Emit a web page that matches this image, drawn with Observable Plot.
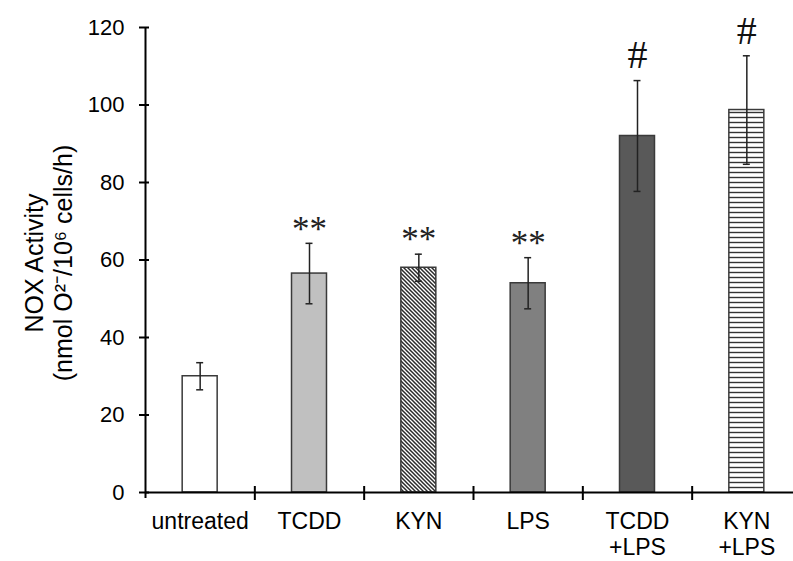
<!DOCTYPE html>
<html>
<head>
<meta charset="utf-8">
<script src="https://cdn.jsdelivr.net/npm/d3@7"></script>
<script src="https://cdn.jsdelivr.net/npm/@observablehq/plot@0.6"></script>
<style>
  html, body { margin: 0; padding: 0; background: #fff; }
  #chart { width: 793px; height: 561px; }
</style>
</head>
<body>
<div id="chart"></div>
<script>
// ---- data ----
const categories = ["untreated", "TCDD", "KYN", "LPS", "TCDD\n+LPS", "KYN\n+LPS"];
const means = [30, 56.5, 58, 54, 92, 98.7];
const errors = [3.5, 7.8, 3.5, 6.6, 14.3, 14];
const significance = ["", "**", "**", "**", "#", "#"];
const yTicks = [0, 20, 40, 60, 80, 100, 120];
const yLabel = "NOX Activity\n(nmol O\u00B2\u207B/10\u2076 cells/h)";

// ---- styling (not data) ----
const fills = ["#ffffff", "#c0c0c0", "url(#hatchDiag)", "#808080", "#595959", "url(#hatchHoriz)"];
const W = 793, H = 561;
const left = 145, rightEnd = 801;
const step = (rightEnd - left) / categories.length;
const font = "Arial, 'Liberation Sans', sans-serif";
const serif = "'Liberation Serif', 'Times New Roman', serif";

const rows = categories.map((c, i) => ({
  cat: c, mean: means[i], err: errors[i], sig: significance[i], fill: fills[i]
}));

const chart = Plot.plot({
  width: W,
  height: H,
  marginLeft: left,
  marginRight: 0,
  marginTop: 27,
  marginBottom: 69,
  style: {fontFamily: font, color: "#000", background: "#fff"},
  x: {domain: categories, range: [left, rightEnd], paddingInner: 0.68, paddingOuter: 0.34, round: false},
  y: {domain: [0, 120]},
  color: {type: "identity"},
  marks: [
    Plot.barY(rows, {x: "cat", y: "mean", fill: "fill", stroke: "#3a3a3a", strokeWidth: 1.5}),
    // error bars
    Plot.ruleX(rows, {x: "cat", y1: d => d.mean - d.err, y2: d => d.mean + d.err, stroke: "#222", strokeWidth: 1.5}),
    Plot.tickY(rows, {x: "cat", y: d => d.mean + d.err, insetLeft: 14, insetRight: 14, stroke: "#222", strokeWidth: 1.5}),
    Plot.tickY(rows, {x: "cat", y: d => d.mean - d.err, insetLeft: 14, insetRight: 14, stroke: "#222", strokeWidth: 1.5}),
    // significance marks
    Plot.text(rows.filter(d => d.sig === "**"), {x: "cat", y: d => d.mean + d.err, text: "sig", dy: -14, fontSize: 35, fontFamily: serif, fill: "#222"}),
    Plot.text(rows.filter(d => d.sig === "#"), {x: "cat", y: d => d.mean + d.err, text: "sig", dy: -25, fontSize: 40, fontFamily: serif, fill: "#111"}),
    // axes
    Plot.ruleY([0], {stroke: "#000", strokeWidth: 2}),
    Plot.ruleX([categories[0]], {x: d => d, dx: -step / 2, insetBottom: -6, stroke: "#000", strokeWidth: 2}),
    Plot.ruleX(categories.slice(0, categories.length - 1), {x: d => d, dx: step / 2, y1: 0, y2: 0, insetTop: -6, insetBottom: -8, stroke: "#000", strokeWidth: 2}),
    Plot.axisY({ticks: yTicks, tickSize: 10, dx: 4, tickPadding: 15, fontSize: 22, label: null, stroke: "#000", strokeWidth: 2, fill: "#000"}),
    Plot.axisX({tickSize: 0, tickPadding: 19, fontSize: 23, lineHeight: 1.1, label: null, fill: "#000"}),
    Plot.text([yLabel], {frameAnchor: "left", text: d => d, rotate: -90, dx: -97, dy: 3, fontSize: 25, lineHeight: 1.15, fill: "#000", textAnchor: "middle"})
  ]
});

// patterns for the hatched bars
const svg = d3.select(chart);
const defs = svg.insert("defs", ":first-child");
const p1 = defs.append("pattern").attr("id", "hatchDiag").attr("patternUnits", "userSpaceOnUse")
  .attr("width", 4).attr("height", 4);
p1.append("rect").attr("width", 4).attr("height", 4).attr("fill", "#fff");
p1.append("path").attr("d", "M-1,-1L5,5M-1,3L1,5M3,-1L5,1").attr("stroke", "#2a2a2a").attr("stroke-width", 1.5);
const p2 = defs.append("pattern").attr("id", "hatchHoriz").attr("patternUnits", "userSpaceOnUse")
  .attr("width", 4).attr("height", 5);
p2.append("rect").attr("width", 4).attr("height", 5).attr("fill", "#fff");
p2.append("path").attr("d", "M0,2.5H4").attr("stroke", "#333").attr("stroke-width", 1.4);

document.getElementById("chart").appendChild(chart);
</script>
</body>
</html>
